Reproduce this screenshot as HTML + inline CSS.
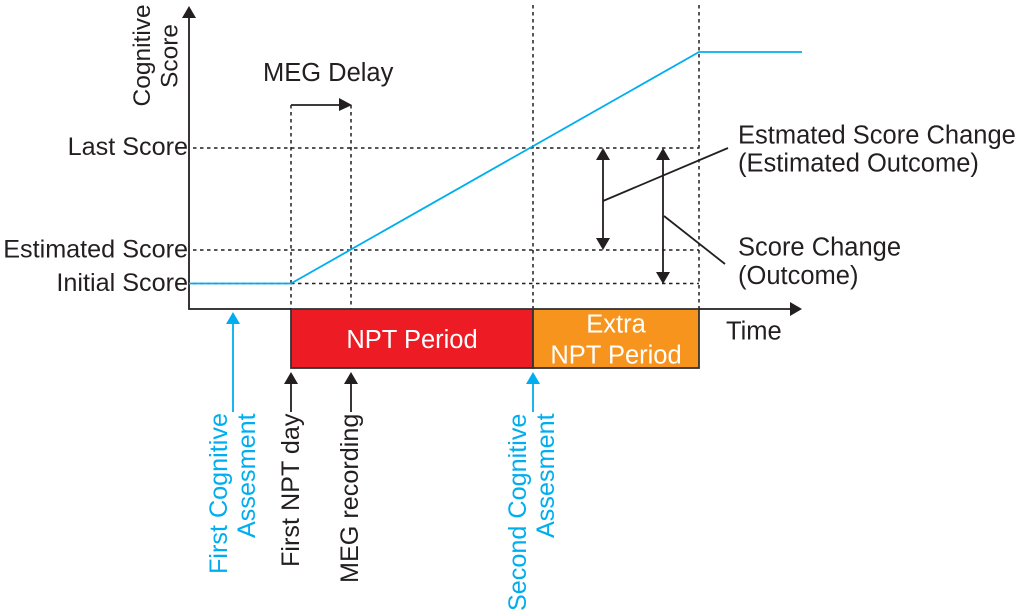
<!DOCTYPE html>
<html><head><meta charset="utf-8"><style>
html,body{margin:0;padding:0;background:#fff}
svg{display:block}
text{font-family:"Liberation Sans",sans-serif;font-size:25.5px;fill:#231f20}
.b{fill:#00aeef}.w{fill:#fff}.s{font-size:25.2px}.t{font-size:24.5px}
.d{stroke:#231f20;stroke-width:1.5;stroke-dasharray:3.5 3.5;fill:none}
.l{stroke:#231f20;stroke-width:1.8;fill:none}
.c{stroke:#00aeef;stroke-width:1.8;fill:none}
.a{fill:#231f20}.ab{fill:#00aeef}
</style></head><body>
<svg width="1020" height="616" viewBox="0 0 1020 616" xmlns="http://www.w3.org/2000/svg">
<rect width="1020" height="616" fill="#fff"/>
<!-- dotted -->
<path class="d" d="M193 148H699M193 250H699M193 283.5H699M291 105V309M351 105V309M533 5V309M699 5V309"/>
<!-- boxes -->
<rect x="291" y="309" width="242" height="59" fill="#ed1c24" stroke="#333" stroke-width="1.8"/>
<rect x="533" y="309" width="166" height="59" fill="#f7941d" stroke="#333" stroke-width="1.8"/>
<!-- axes -->
<path class="l" d="M189 16V309H291M699 309H790"/>
<polygon class="a" points="189,6 182,18 196,18"/>
<polygon class="a" points="802,309 790,302 790,316"/>
<!-- curve -->
<path class="c" d="M189 283.5H291L699 52H802"/>
<!-- delay arrow -->
<path class="l" d="M291 105H340"/>
<polygon class="a" points="352,105 339,98 339,111"/>
<!-- double arrows -->
<path class="l" d="M603 155V242M663 155V275"/>
<polygon class="a" points="603,148 596,160 610,160"/>
<polygon class="a" points="603,250 596,238 610,238"/>
<polygon class="a" points="663,148 656,160 670,160"/>
<polygon class="a" points="663,284 656,272 670,272"/>
<path class="l" d="M603 201L728 148M664 216L725 264"/>
<!-- bottom arrows -->
<path class="c" d="M233 322V412M533 382V412"/>
<polygon class="ab" points="233,312 226,324 240,324"/>
<polygon class="ab" points="533,372 526,384 540,384"/>
<path class="l" d="M291 382V412M351 382V412"/>
<polygon class="a" points="291,372 284,384 298,384"/>
<polygon class="a" points="351,372 344,384 358,384"/>
<!-- labels -->
<text x="263" y="81">MEG Delay</text>
<text class="s" x="188" y="155" text-anchor="end">Last Score</text>
<text class="s" x="188" y="257.5" text-anchor="end">Estimated Score</text>
<text class="s" x="188" y="291" text-anchor="end">Initial Score</text>
<text class="t" transform="translate(150,106.5) rotate(-90)">Cognitive</text>
<text class="t" transform="translate(177.5,88) rotate(-90)">Score</text>
<text class="w" x="412" y="348" text-anchor="middle">NPT Period</text>
<text class="w" x="616" y="332.5" text-anchor="middle">Extra</text>
<text class="w" x="616" y="363.5" text-anchor="middle">NPT Period</text>
<text x="726" y="339.5">Time</text>
<text x="738" y="143.5">Estmated Score Change</text>
<text x="738" y="171.5">(Estimated Outcome)</text>
<text x="738" y="255.5">Score Change</text>
<text x="738" y="284">(Outcome)</text>
<text class="b s" transform="translate(227,574) rotate(-90)">First Cognitive</text>
<text class="b s" transform="translate(255,538) rotate(-90)">Assesment</text>
<text class="s" transform="translate(299,567) rotate(-90)">First NPT day</text>
<text class="s" transform="translate(358,583) rotate(-90)">MEG recording</text>
<text class="b s" transform="translate(526,611) rotate(-90)">Second Cognitive</text>
<text class="b s" transform="translate(554,538) rotate(-90)">Assesment</text>
</svg>
</body></html>
